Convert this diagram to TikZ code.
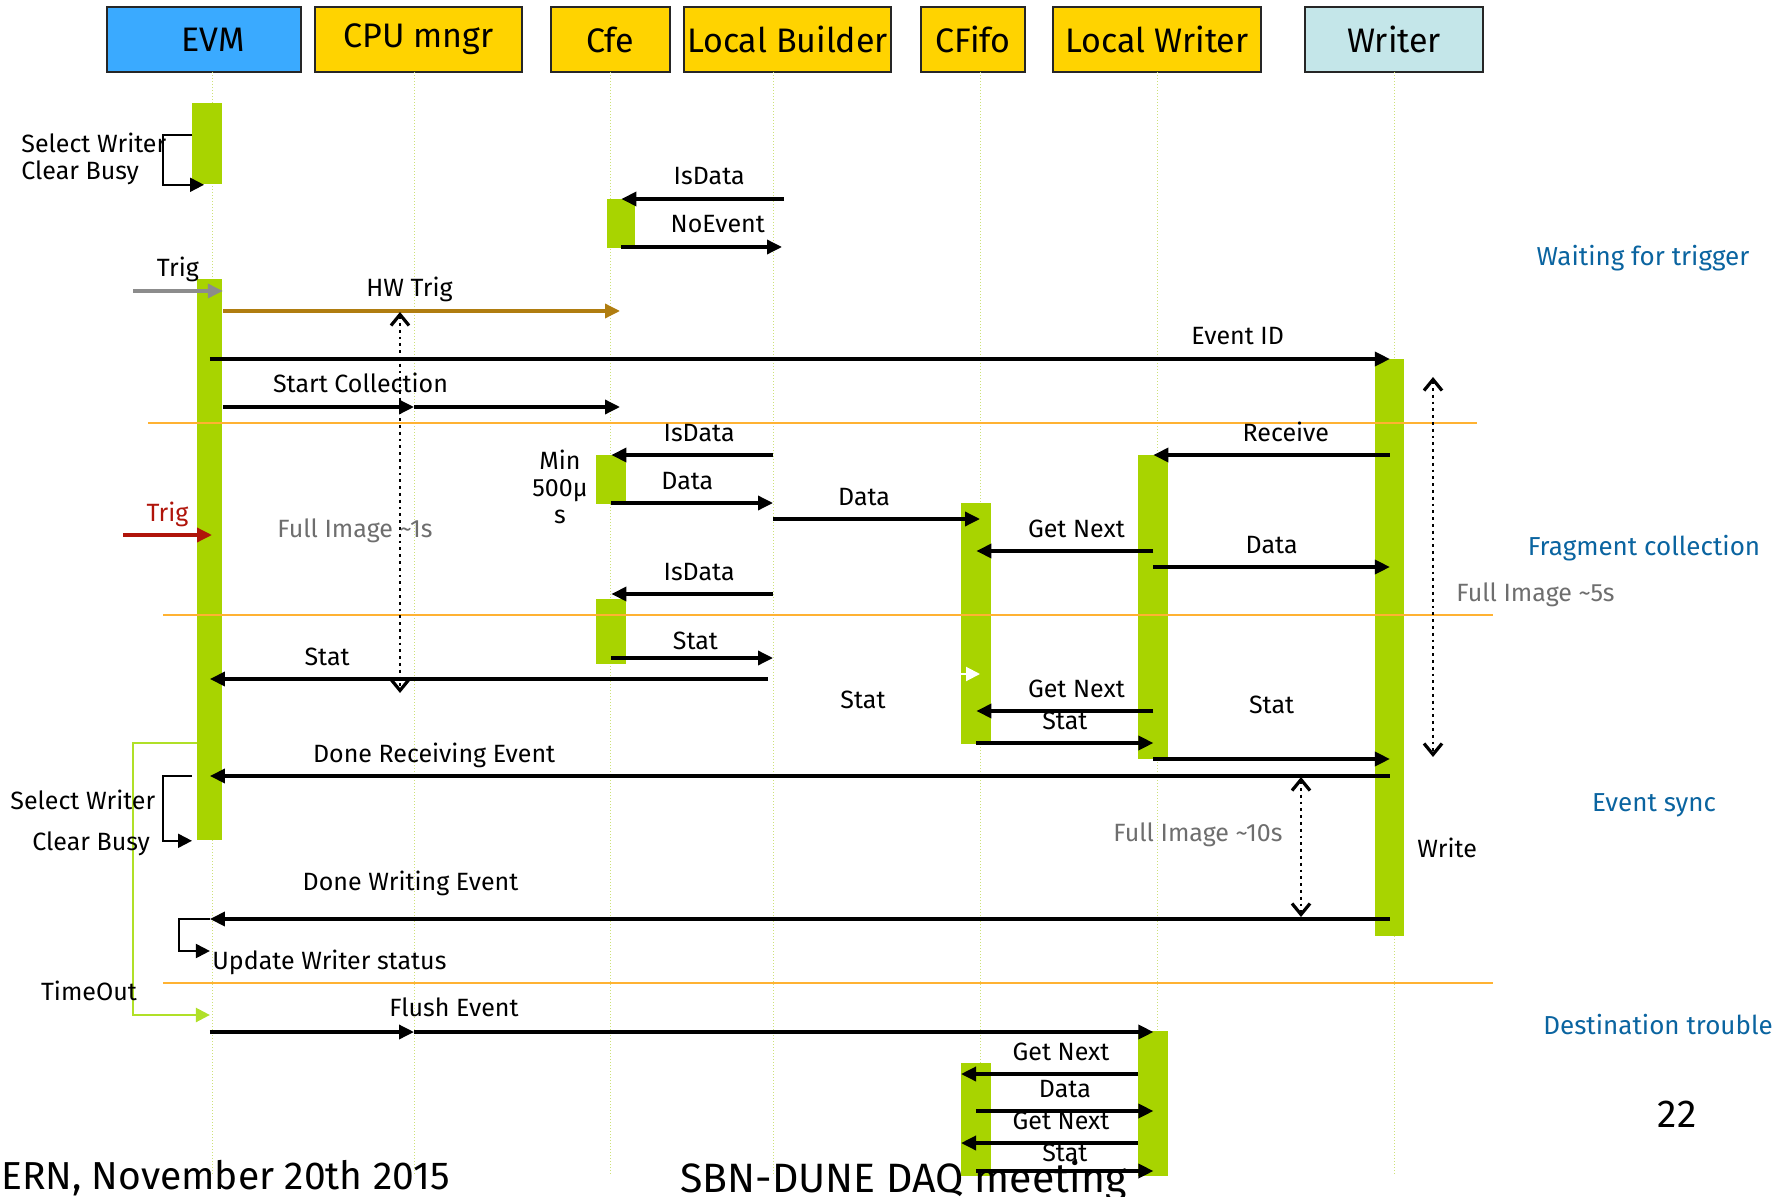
\documentclass[tikz,border=0pt]{standalone}
\usepackage{fontspec}
\setmainfont{Fira Sans}
\usetikzlibrary{arrows.meta,positioning}
\definecolor{evmBlue}{RGB}{58,170,255}
\definecolor{procYellow}{RGB}{255,211,0}
\definecolor{writerCyan}{RGB}{196,230,233}
\definecolor{barGreen}{RGB}{168,212,0}
\definecolor{phaseOrange}{RGB}{255,178,50}
\definecolor{hwBrown}{RGB}{176,125,16}
\definecolor{trigRed}{RGB}{176,20,10}
\definecolor{trigGray}{RGB}{140,140,140}
\definecolor{phaseBlue}{RGB}{10,100,160}
\definecolor{noteGray}{RGB}{110,110,110}
\definecolor{lifeGreen}{RGB}{205,225,120}
\definecolor{timeoutGreen}{RGB}{176,224,40}

\begin{document}
\begin{tikzpicture}[
  x=0.5pt, y=-0.5pt,
  every node/.style={font=\fontsize{12.5}{14}\selectfont, inner sep=0pt},
  hbox/.style={draw=black!85, line width=0.9pt, minimum height=32.5pt,
               font=\fontsize{17}{19}\selectfont},
  bar/.style={fill=barGreen, anchor=north west, minimum width=15pt},
  lifeline/.style={lifeGreen, densely dotted, line width=0.5pt},
  msg/.style={line width=1.7pt, -{Triangle[length=7.5pt,width=7pt]}},
  selfmsg/.style={line width=1pt, -{Triangle[length=7pt,width=7pt]}},
  span/.style={dotted, line width=1.4pt,
               >={Straight Barb[length=5.5pt,width=9pt,line width=1.6pt]}, <->},
  phase/.style={phaseOrange, line width=1.1pt},
  lbl/.style={anchor=base, yshift=7pt},
  note/.style={text=noteGray, anchor=base},
  stage/.style={text=phaseBlue, font=\fontsize{13}{15}\selectfont, anchor=base},
  footer/.style={font=\fontsize{19.5}{22}\selectfont},
]
\useasboundingbox (0,0) rectangle (1780,1197);

% Participants
\node[hbox, fill=evmBlue, minimum width=97pt] (evmBox) at (204,39.5) {\hspace*{9pt}EVM};
\node[hbox, fill=procYellow, minimum width=103.5pt] (cpuBox) at (418.5,39.5) {CPU mngr};
\node[hbox, fill=procYellow, minimum width=59.5pt] (cfeBox) at (610.5,39.5) {Cfe};
\node[hbox, fill=procYellow, minimum width=103.5pt] (lbBox) at (787.5,39.5) {Local Builder};
\node[hbox, fill=procYellow, minimum width=52pt] (fifoBox) at (973,39.5) {CFifo};
\node[hbox, fill=procYellow, minimum width=104pt] (lwBox) at (1157,39.5) {Local Writer};
\node[hbox, fill=writerCyan, minimum width=89pt] (wrBox) at (1394,39.5) {Writer};

\coordinate (evm) at (212,72);
\coordinate (cpu) at (414,72);
\coordinate (cfe) at (610,72);
\coordinate (lb) at (773,72);
\coordinate (fifo) at (980,72);
\coordinate (lw) at (1157,72);
\coordinate (wr) at (1394,72);

\draw[lifeline] (evm) -- (evm |- 0,1175);
\draw[lifeline] (cpu) -- (cpu |- 0,1175);
\draw[lifeline] (cfe) -- (cfe |- 0,1175);
\draw[lifeline] (lb) -- (lb |- 0,1175);
\draw[lifeline] (fifo) -- (fifo |- 0,1175);
\draw[lifeline] (lw) -- (lw |- 0,1175);
\draw[lifeline] (wr) -- (wr |- 0,1175);

% Activation bars
\node[bar, minimum height=40.5pt] (evmA) at (192,103) {};
\node[bar, minimum width=12.5pt, minimum height=280.5pt] (evmB) at (197,279) {};
\node[bar, minimum width=14pt, minimum height=24.5pt] (cfeA) at (607,199) {};
\node[bar, minimum height=24.5pt] (cfeB) at (596,455) {};
\node[bar, minimum height=32.5pt] (cfeC) at (596,599) {};
\node[bar, minimum width=14.5pt, minimum height=288.5pt] (wrA) at (1375,359) {};
\node[bar, minimum height=152pt] (lwA) at (1138,455) {};
\node[bar, minimum height=120.5pt] (fifoA) at (961,503) {};
\node[bar, minimum height=72.5pt] (lwB) at (1138,1031) {};
\node[bar, minimum height=56.5pt] (fifoB) at (961,1063) {};

% Phase separators
\draw[phase] (148,423) -- (1477,423);
\draw[phase] (163,615) -- (1493,615);
\draw[phase] (163,983) -- (1493,983);

% Waiting for trigger
\draw[selfmsg] ([yshift=-16pt]evmA.north west) -- ++(-29,0) |- ([xshift=6pt]evmA.south west);
\node[anchor=base west] (selWr1) at (21,153) {Select Writer};
\node[anchor=base west] (clrBusy1) at (21,180) {Clear Busy};

\draw[msg] ([xshift=5.5pt]lb |- 0,199) -- (cfeA |- 0,199) node[lbl, pos=0.46] (isData1) {IsData};
\draw[msg] (cfeA |- 0,247) -- ([xshift=4.5pt]lb |- 0,247) node[lbl, pos=0.6] (noEvent) {NoEvent};

\coordinate (trigGrayIn) at (133,291);
\draw[msg, trigGray] (trigGrayIn) -- (evmB.east |- trigGrayIn) node[lbl, midway, text=black] (trig1) {Trig};
\draw[msg, hwBrown] (evmB.east |- 0,311) -- ([xshift=5pt]cfe |- 0,311) node[lbl, pos=0.47, text=black] (hwTrig) {HW Trig};
\draw[span] ([xshift=-7pt]cpu |- 0,312) -- ([xshift=-7pt]cpu |- 0,693);
\node[note] (fullImg1) at (355,537) {Full Image \textasciitilde1s};

\draw[msg] (evmB |- 0,359) -- (wrA |- 0,359) node[lbl, pos=0.871] (evtId) {Event ID};
\draw[msg] (evmB.east |- 0,407) -- (cpu |- 0,407) node[lbl, pos=0.72] (startCol) {Start Collection};
\draw[msg] (cpu |- 0,407) -- ([xshift=5pt]cfe |- 0,407);

% Fragment collection
\draw[msg] (lb |- 0,455) -- (cfeB |- 0,455) node[lbl, pos=0.457] (isData2) {IsData};
\node[anchor=north, align=center, font=\fontsize{12.5}{13.5}\selectfont] (minWait) at (560,450) {Min\\500μ\\s};
\draw[msg] (cfeB |- 0,503) -- (lb |- 0,503) node[lbl, pos=0.47] (data1) {Data};
\draw[msg] (lb |- 0,519) -- (fifo |- 0,519) node[lbl, pos=0.44] (data2) {Data};
\draw[msg] (wrA |- 0,455) -- (lwA |- 0,455) node[lbl, pos=0.44] (receive) {Receive};

\coordinate (trigRedIn) at (123,535);
\draw[msg, trigRed] (trigRedIn) -- (evm |- trigRedIn) node[lbl, midway] (trig2) {Trig};

\draw[msg] (lwA |- 0,551) -- (fifoA |- 0,551) node[lbl, pos=0.435] (getNext1) {Get Next};
\draw[msg] (lwA |- 0,567) -- (wrA |- 0,567) node[lbl, midway] (data3) {Data};
\draw[span] ([xshift=19.5pt]wr |- 0,377) -- ([xshift=19.5pt]wr |- 0,757);
\node[note, anchor=base west] (fullImg5) at (1456,601) {Full Image \textasciitilde5s};

\draw[msg] (lb |- 0,594) -- (cfeC |- 0,594) node[lbl, pos=0.457] (isData3) {IsData};
\draw[msg] (cfeC |- 0,658) -- (lb |- 0,658) node[lbl, pos=0.52, yshift=-2.5pt] (stat1) {Stat};
\draw[msg] ([xshift=-2.5pt]lb |- 0,679) -- (evmB |- 0,679) node[lbl, pos=0.79] (stat2) {Stat};
\node[anchor=base] (stat3) at (863,708) {Stat};
\draw[white, line width=1pt, -{Triangle[length=7pt,width=7pt]}] (fifoA.west |- 0,674) -- (fifo |- 0,674);

\draw[msg] (lwA |- 0,711) -- (fifoA |- 0,711) node[lbl, pos=0.435] (getNext2) {Get Next};
\draw[msg] (fifoA |- 0,743) -- (lwA |- 0,743) node[lbl, midway] (stat4) {Stat};
\draw[msg] (lwA |- 0,759) -- (wrA |- 0,759) node[lbl, midway, yshift=16pt] (stat5) {Stat};

% Event sync
\draw[msg] (wrA |- 0,776) -- (evmB |- 0,776) node[lbl, pos=0.81] (doneRecv) {Done Receiving Event};
\draw[selfmsg, timeoutGreen, line width=1.2pt] (evmB.west |- 0,743) -- ++(-64,0) |- (evmB |- 0,1015);
\node[anchor=base] (timeOut) at (89,1000) {TimeOut};
\draw[selfmsg] ([xshift=-2.5pt]evmB.west |- 0,776) -- ++(-29,0) |- ([xshift=-2.5pt]evmB.south west);
\node[anchor=base west] (selWr2) at (10,809) {Select Writer};
\node[anchor=base west] (clrBusy2) at (32,850) {Clear Busy};

\draw[span] ([xshift=-46.5pt]wr |- 0,777) -- ([xshift=-46.5pt]wr |- 0,917);
\node[note] (fullImg10) at (1198,841) {Full Image \textasciitilde10s};
\node[anchor=base west] (write) at (1417,857) {Write};

\draw[msg] (wrA |- 0,919) -- (evmB |- 0,919) node[lbl, pos=0.83, yshift=7.5pt] (doneWrite) {Done Writing Event};
\draw[selfmsg] (evmB |- 0,919) -- ++(-31,0) |- (evmB |- 0,951);
\node[anchor=base west] (updWr) at (212,969) {Update Writer status};

% Destination trouble
\draw[msg] (evmB |- 0,1032) -- (cpu |- 0,1032);
\draw[msg] (cpu |- 0,1032) -- (lwB |- 0,1032) node[lbl, pos=0.054, yshift=1pt] (flush) {Flush Event};
\draw[msg] (lwB.west |- 0,1074) -- (fifoB.west |- 0,1074) node[lbl, pos=0.435] (getNext3) {Get Next};
\draw[msg] (fifoB |- 0,1111) -- (lwB |- 0,1111) node[lbl, midway] (data4) {Data};
\draw[msg] (lwB.west |- 0,1143) -- (fifoB.west |- 0,1143) node[lbl, pos=0.435] (getNext4) {Get Next};
\draw[msg] (fifoB |- 0,1171) -- (lwB |- 0,1171) node[lbl, midway, yshift=-2pt] (stat6) {Stat};

% Phase names
\node[stage] (waitTrig) at (1643,266) {Waiting for trigger};
\node[stage] (fragCol) at (1644,555) {Fragment collection};
\node[stage] (evSync) at (1654,811) {Event sync};
\node[stage] (destTr) at (1658,1034) {Destination trouble};

\node[footer, anchor=base] (pageNo) at (1677,1127) {22};
\node[footer, anchor=base east] (confDate) at (450,1189) {CERN, November 20th 2015};
\node[footer, anchor=base west, font=\fontsize{20.5}{22}\selectfont] (meeting) at (680,1192) {SBN-DUNE DAQ meeting};
\end{tikzpicture}
\end{document}
